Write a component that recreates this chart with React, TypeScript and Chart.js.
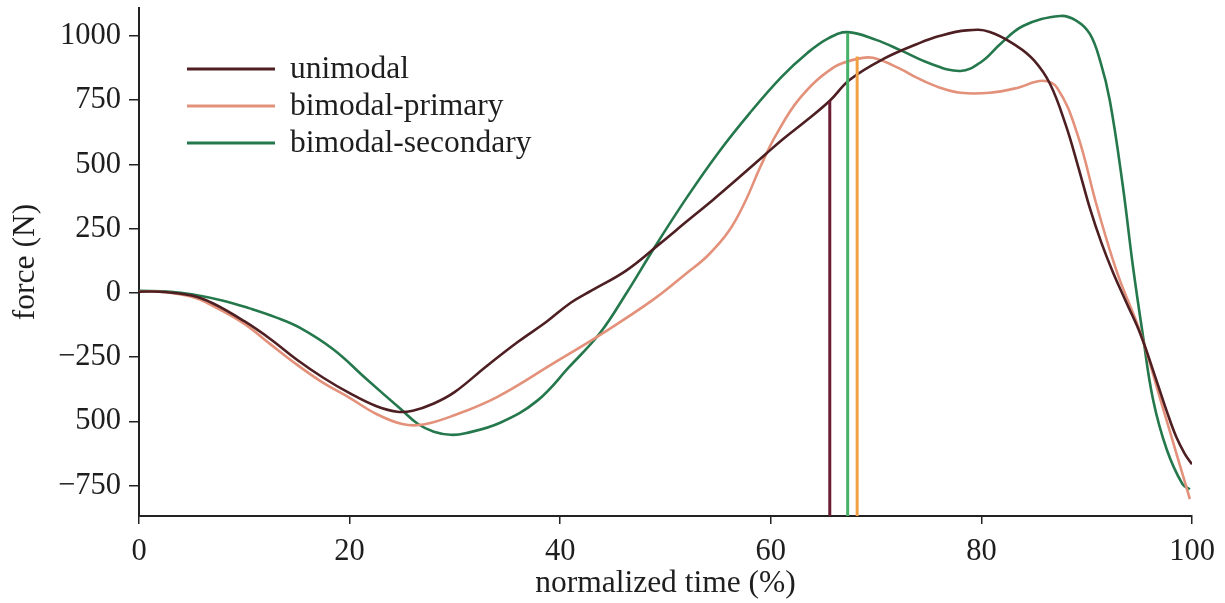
import React, { useEffect, useRef } from "react";
import { Chart, registerables } from "chart.js";

Chart.register(...registerables);

const FONT = '"Liberation Serif", "Times New Roman", serif';

// ---- data ----
const seriesLabels = ["unimodal", "bimodal-primary", "bimodal-secondary"];

const timeUni = [0, 2, 5, 7, 10, 12.5, 15, 17.5, 20, 22.5, 24.5, 26, 28, 30, 33, 36, 38.7, 41, 43, 46.3, 49.5, 52, 54.5, 57, 59.5, 61.2, 63.5, 65.6, 67.5, 70.7, 73.9, 76, 78.6, 80.8, 83.4, 85, 86.5, 88, 89.2, 90.3, 91.4, 92.5, 93.8, 95.1, 96.7, 97.6, 98.5, 99.3, 100];
const forceUni = [5, 5, -10, -40, -110, -180, -260, -330, -390, -440, -462, -458, -430, -385, -285, -190, -112, -38, 10, 88, 193, 278, 362, 450, 540, 600, 675, 748, 830, 911, 969, 1000, 1022, 1016, 960, 905, 815, 655, 490, 330, 195, 80, -40, -160, -350, -460, -560, -625, -667];

const timePri = [0, 2, 5, 7, 10, 12.5, 15, 17.5, 20, 22.5, 25, 27, 30, 34, 39.3, 44.1, 48.8, 52, 54, 56, 57.5, 59, 60.5, 62.8, 65.9, 68.2, 69.7, 72.3, 73.9, 76, 78, 80.8, 83.4, 85.8, 87.2, 89.1, 91, 92.9, 95.1, 97, 98.6, 99.8];
const forcePri = [5, 5, -15, -50, -120, -200, -279, -350, -408, -470, -510, -512, -475, -405, -275, -155, -27, 77, 145, 240, 350, 490, 615, 760, 876, 911, 915, 872, 837, 800, 779, 779, 798, 826, 798, 620, 333, 78, -155, -415, -636, -802];

const timeSec = [0, 3, 5, 8, 10.5, 13, 15.3, 18.5, 21.6, 24.8, 26.5, 28, 29.6, 31, 34.3, 37.8, 40.9, 43.8, 46.3, 49, 52, 55, 58, 61, 63.5, 65.5, 67.3, 70, 72.3, 75, 78, 80, 81.8, 84, 87.5, 89, 90.3, 91.3, 92.2, 93.4, 94.4, 95.3, 96.3, 97.6, 99.1, 99.8];
const forceSec = [8, 5, -5, -30, -60, -95, -136, -221, -335, -450, -510, -540, -552, -546, -505, -420, -286, -155, 0, 180, 370, 545, 700, 840, 935, 992, 1015, 985, 945, 895, 864, 900, 969, 1040, 1078, 1060, 1008, 900, 748, 426, 101, -155, -415, -609, -744, -764];

// vertical marker lines (time, top force)
const markerTime = [65.6, 67.3, 68.2];
const markerTop = [748, 1012, 920];

const xTicks = [0, 20, 40, 60, 80, 100];
const yTicks = [-750, -500, -250, 0, 250, 500, 750, 1000];
const yTickLabels = ["\u2212750", "500", "\u2212250", "0", "250", "500", "750", "1000"];

const Y_MIN = -868;
const Y_MAX = 1109;

const seriesColors = ["#4e1f22", "#e3917a", "#24784c"];
const markerColors = ["#6a1d33", "#45b068", "#f2a044"];

const TEXT = "#1e1e1e";

const zip = (xs: number[], ys: number[]) => xs.map((x, i) => ({ x, y: ys[i] }));

const inlineLegend = {
  id: "inlineLegend",
  afterDraw(chart: any) {
    const ctx = chart.ctx;
    ctx.save();
    ctx.font = `31.5px ${FONT}`;
    ctx.textBaseline = "middle";
    ctx.textAlign = "left";
    for (let i = 0; i < 3; i++) {
      const ds = chart.data.datasets[i];
      const y = 69 + i * 37;
      ctx.strokeStyle = ds.borderColor;
      ctx.lineWidth = 3;
      ctx.beginPath();
      ctx.moveTo(187, y);
      ctx.lineTo(275, y);
      ctx.stroke();
      ctx.fillStyle = TEXT;
      ctx.fillText(ds.label, 290, y + 1);
    }
    ctx.restore();
  },
};

export default function App() {
  const ref = useRef<HTMLCanvasElement>(null);

  useEffect(() => {
    if (!ref.current) return;
    const curveData = [zip(timeUni, forceUni), zip(timePri, forcePri), zip(timeSec, forceSec)];
    const curves = curveData.map((d, i) => ({
      label: seriesLabels[i],
      data: d,
      borderColor: seriesColors[i],
      borderWidth: 2.6,
      pointRadius: 0,
      tension: 0.4,
      fill: false,
      order: 1,
    }));
    const markers = markerTime.map((t, i) => ({
      label: "",
      data: [
        { x: t, y: Y_MIN },
        { x: t, y: markerTop[i] },
      ],
      borderColor: markerColors[i],
      borderWidth: 3,
      pointRadius: 0,
      tension: 0,
      fill: false,
      order: 0,
    }));

    const chart = new Chart(ref.current, {
      type: "line",
      data: { datasets: [...curves, ...markers] as any },
      options: {
        responsive: false,
        animation: false,
        devicePixelRatio: 1,
        layout: { padding: { left: 0, top: 8, right: 33, bottom: 0 } },
        plugins: { legend: { display: false }, tooltip: { enabled: false } },
        scales: {
          x: {
            type: "linear",
            min: 0,
            max: 100,
            afterBuildTicks: (s: any) => {
              s.ticks = xTicks.map((v) => ({ value: v }));
            },
            afterFit: (s: any) => {
              s.height = 87;
              s.paddingLeft = 0;
              s.paddingRight = 0;
            },
            grid: { drawOnChartArea: false, drawTicks: true, tickLength: 8, color: "#222", lineWidth: 1.5 },
            border: { display: true, color: "#222", width: 2 },
            ticks: {
              font: { family: FONT, size: 30.5 },
              color: TEXT,
              padding: 10,
              maxRotation: 0,
              autoSkip: false,
            },
            title: {
              display: true,
              text: "normalized time (%)",
              font: { family: FONT, size: 31.5 },
              color: TEXT,
              padding: { top: 0, bottom: 0 },
            },
          },
          y: {
            type: "linear",
            min: Y_MIN,
            max: Y_MAX,
            afterBuildTicks: (s: any) => {
              s.ticks = yTicks.map((v) => ({ value: v }));
            },
            afterFit: (s: any) => {
              s.width = 139;
              s.paddingTop = 0;
              s.paddingBottom = 0;
            },
            grid: { drawOnChartArea: false, drawTicks: true, tickLength: 10, color: "#222", lineWidth: 1.5 },
            border: { display: true, color: "#222", width: 2 },
            ticks: {
              font: { family: FONT, size: 30.5 },
              color: TEXT,
              padding: 8,
              autoSkip: false,
              callback: (_v: any, i: number) => yTickLabels[i],
            },
            title: {
              display: true,
              text: "force (N)",
              font: { family: FONT, size: 31.5 },
              color: TEXT,
              padding: { top: 7, bottom: 0 },
            },
          },
        },
      },
      plugins: [inlineLegend],
    });
    return () => chart.destroy();
  }, []);

  return (
    <div style={{ position: "fixed", left: 0, top: 0, width: 1225, height: 603, background: "#fff" }}>
      <canvas ref={ref} width={1225} height={603} style={{ display: "block" }} />
    </div>
  );
}
